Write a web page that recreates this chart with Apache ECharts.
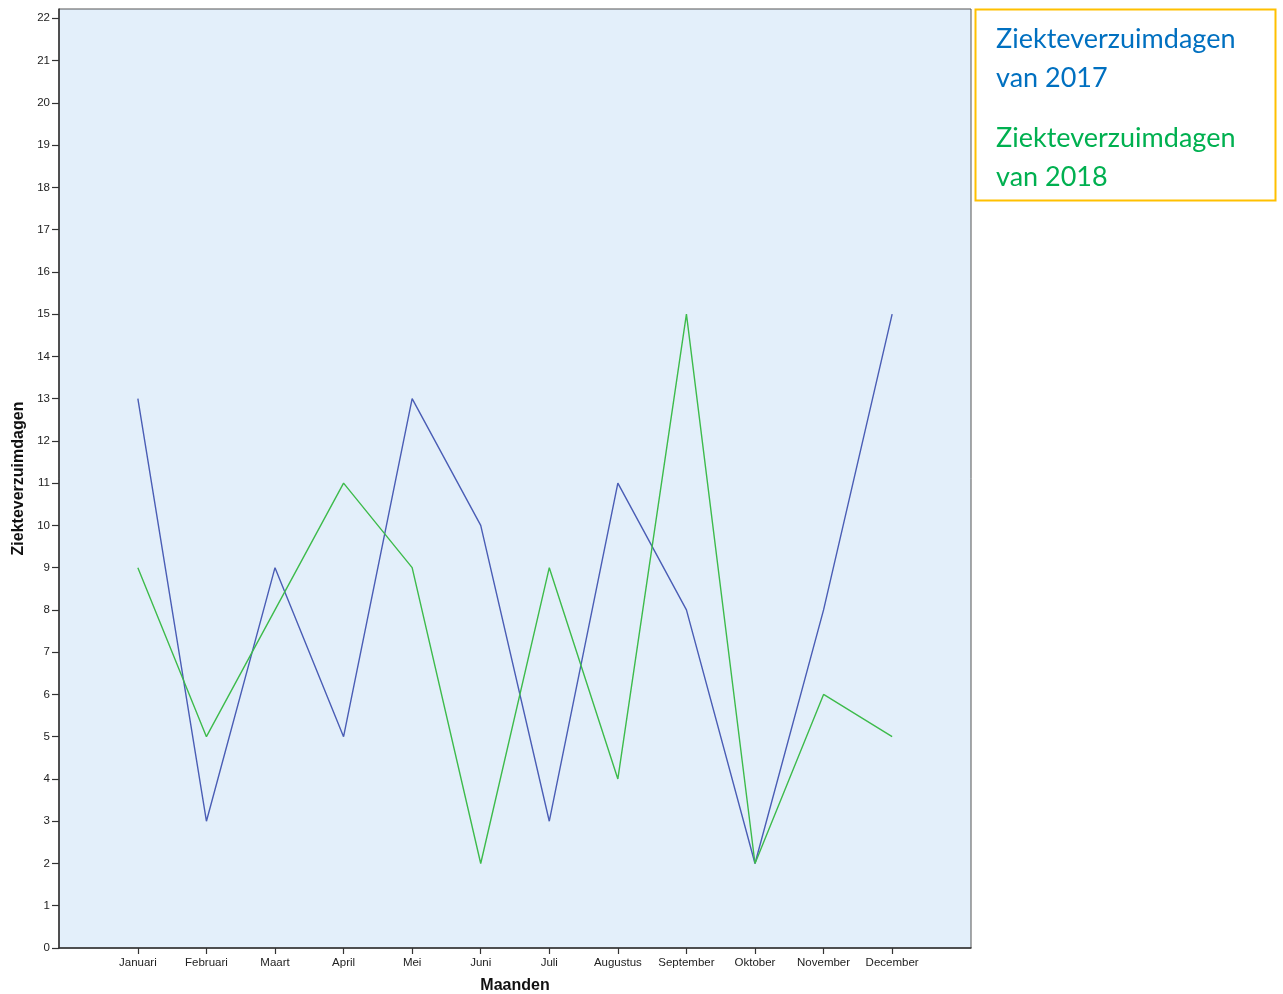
<!DOCTYPE html>
<html>
<head>
<meta charset="utf-8">
<script src="https://cdn.jsdelivr.net/npm/echarts@6/dist/echarts.min.js"></script>
<style>html,body{margin:0;padding:0;background:#fff;}#c{width:1283px;height:994px;}</style>
</head>
<body>
<div id="c"></div>
<script>
var months = ['Januari','Februari','Maart','April','Mei','Juni','Juli','Augustus','September','Oktober','November','December'];
var days2017 = [13, 3, 9, 5, 13, 10, 3, 11, 8, 2, 8, 15];
var days2018 = [9, 5, 8, 11, 9, 2, 9, 4, 15, 2, 6, 5];
var yTicks = [0,1,2,3,4,5,6,7,8,9,10,11,12,13,14,15,16,17,18,19,20,21,22];
var legendLabels = ['Ziekteverzuimdagen', 'van 2017', 'Ziekteverzuimdagen', 'van 2018'];

var idx = months.map(function(m, i){ return i; });
function pairs(arr){ return arr.map(function(v, i){ return [i, v]; }); }

var chart = echarts.init(document.getElementById('c'));
var labelFont = {fontFamily: 'Liberation Sans, Arial, sans-serif', fontSize: 11.5, color: '#222'};
var legendFont = '27px Lato, "Open Sans", sans-serif';
var nameFont = {fontFamily: 'Liberation Sans, Arial, sans-serif', fontSize: 16, fontWeight: 'bold', color: '#111'};
chart.setOption({
  animation: false,
  grid: {left: 59, right: 312, top: 9, bottom: 46, containLabel: false, outerBoundsMode: 'none', show: true, backgroundColor: '#E3EFFA', borderColor: '#555', borderWidth: 1},
  xAxis: {
    type: 'value', min: -1.15, max: 12.15,
    name: 'Maanden', nameLocation: 'middle', nameGap: 30,
    nameTextStyle: nameFont,
    axisLine: {show: true, onZero: false, lineStyle: {color: '#333', width: 1.5}},
    axisTick: {show: true, customValues: idx, length: 6, lineStyle: {color: '#333', width: 1.2}},
    axisLabel: Object.assign({customValues: idx, margin: 9, formatter: function(v){ return months[Math.round(v)]; }}, labelFont),
    splitLine: {show: false}
  },
  yAxis: {
    type: 'value', min: 0, max: 22.22,
    name: 'Ziekteverzuimdagen', nameLocation: 'middle', nameGap: 30,
    nameTextStyle: nameFont,
    axisLine: {show: true, onZero: false, lineStyle: {color: '#333', width: 1.5}},
    axisTick: {show: true, customValues: yTicks, length: 7, lineStyle: {color: '#333', width: 1.2}},
    axisLabel: Object.assign({customValues: yTicks, margin: 9}, labelFont),
    splitLine: {show: false}
  },
  series: [
    {type: 'line', data: pairs(days2017), symbol: 'none', lineStyle: {color: '#4A5DB5', width: 1.4}},
    {type: 'line', data: pairs(days2018), symbol: 'none', lineStyle: {color: '#3DBB4B', width: 1.4}}
  ],
  graphic: [
    {type: 'rect', shape: {x: 975.5, y: 9.5, width: 300, height: 191}, style: {fill: '#fff', stroke: '#FFC000', lineWidth: 2}},
    {type: 'text', left: 996, top: 26, style: {text: legendLabels[0], fill: '#0070C0', font: legendFont}},
    {type: 'text', left: 996, top: 65, style: {text: legendLabels[1], fill: '#0070C0', font: legendFont}},
    {type: 'text', left: 996, top: 125, style: {text: legendLabels[2], fill: '#00B050', font: legendFont}},
    {type: 'text', left: 996, top: 164, style: {text: legendLabels[3], fill: '#00B050', font: legendFont}}
  ]
});
</script>
</body>
</html>
